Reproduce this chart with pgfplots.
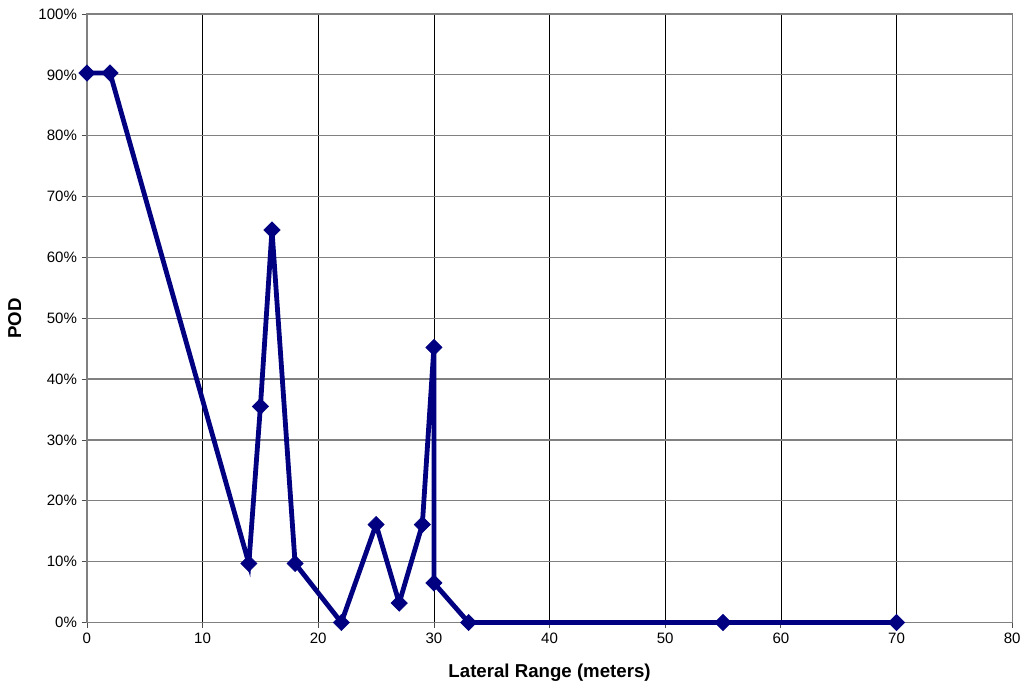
\documentclass[border=0pt]{standalone}
\usepackage{pgfplots}
\pgfplotsset{compat=1.18}
\usepackage{fontspec}
\setmainfont{Liberation Sans}
\definecolor{navy}{HTML}{000080}
\definecolor{gridgray}{HTML}{808080}
\begin{document}
\begin{tikzpicture}
\begin{axis}[
  scale only axis,
  width=694.5pt, height=456.75pt,
  xmin=0, xmax=80, ymin=0, ymax=100,
  xtick={0,10,...,80}, ytick={0,10,...,100},
  xtick pos=bottom, ytick pos=left,
  yticklabel={\pgfmathprintnumber{\tick}\%},
  /pgf/number format/assume math mode=true,
  tick label style={font=\fontsize{11.3}{13}\selectfont},
  xmajorgrids, ymajorgrids,
  x grid style={black, line width=0.5pt},
  y grid style={gridgray, line width=0.9pt},
  axis line style={gridgray, line width=0.9pt},
  tick style={black!70, line width=0.6pt},
  tick align=outside,
  major tick length=4pt,
  xlabel={\textbf{Lateral Range (meters)}},
  ylabel={\textbf{POD}},
  label style={font=\fontsize{14}{16}\selectfont},
  xlabel style={yshift=-9pt},
  ylabel style={yshift=6pt},
  clip=false,
]
\addplot[navy, line width=3.6pt, mark=square*, mark size=4.3pt,
  mark options={solid, fill=navy, line width=0.5pt, rotate=45}] coordinates {
  (0,90.3) (2,90.3) (14,9.7) (15,35.5) (16,64.5) (18,9.7) (22,0)
  (25,16.1) (27,3.2) (29,16.1) (30,45.2) (30,6.5) (33,0) (55,0) (70,0)
};
\path (rel axis cs:0,0) ++(-65.25pt,-51.75pt) (rel axis cs:1,1) ++(9pt,10.5pt);
\end{axis}
\end{tikzpicture}
\end{document}
